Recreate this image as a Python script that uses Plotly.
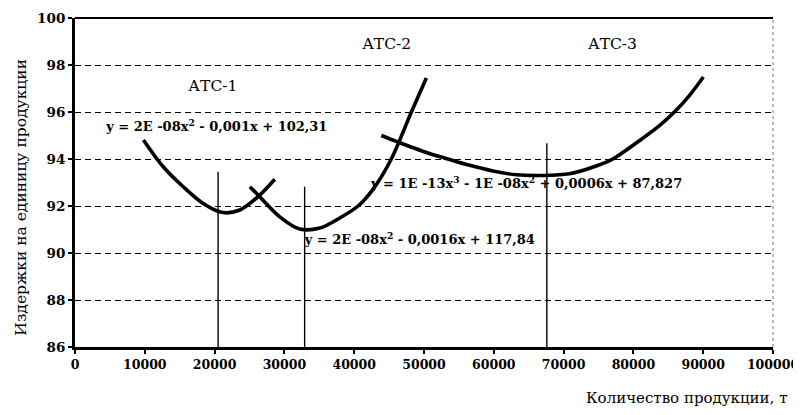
import plotly.graph_objects as go

# ---- data ----
atc1_x = [9800, 12640, 15500, 18360, 21220, 23615, 26240, 28620]
atc1_y = [94.81, 93.67, 92.82, 92.11, 91.72, 91.83, 92.40, 93.14]

atc2_x = [25050, 26230, 29340, 32200, 35070, 37930, 40550, 42690, 45320, 48190, 50340]
atc2_y = [92.82, 92.47, 91.54, 91.02, 91.06, 91.49, 92.00, 92.71, 94.00, 96.00, 97.45]

atc3_x = [43890, 46040, 50340, 53430, 56530, 59870, 63220, 67020, 70850, 74670, 77050,
          80860, 83730, 85870, 88020, 90020]
atc3_y = [95.00, 94.75, 94.28, 94.00, 93.73, 93.49, 93.33, 93.30, 93.37, 93.70, 94.00,
          94.78, 95.42, 96.00, 96.70, 97.49]

min_x = [20500, 32900, 67600]
min_top = [93.46, 92.82, 94.67]

curve_names = ["АТС-1", "АТС-2", "АТС-3"]
name_x = [19750, 44650, 77000]
name_y = [97.06, 98.85, 98.85]

eq_texts = [
    "y = 2E -08x<sup>2</sup> - 0,001x + 102,31",
    "y = 2E -08x<sup>2</sup> - 0,0016x + 117,84",
    "y = 1E -13x<sup>3</sup> - 1E -08x<sup>2</sup> + 0,0006x + 87,827",
]
eq_x = [20320, 49400, 64700]
eq_y = [95.32, 90.52, 92.9]

x_ticks = [0, 10000, 20000, 30000, 40000, 50000, 60000, 70000, 80000, 90000, 100000]
y_ticks = [86, 88, 90, 92, 94, 96, 98, 100]

x_title = "Количество продукции, т"
y_title = "Издержки на единицу продукции"

FONT = "DejaVu Serif"

fig = go.Figure()

# vertical lines at minima
vx, vy = [], []
for mx, mt in zip(min_x, min_top):
    vx += [mx, mx, None]
    vy += [86, mt, None]
fig.add_trace(go.Scatter(x=vx, y=vy, mode="lines",
                         line=dict(color="black", width=1.4),
                         hoverinfo="skip", showlegend=False))

for xs, ys in [(atc1_x, atc1_y), (atc2_x, atc2_y), (atc3_x, atc3_y)]:
    fig.add_trace(go.Scatter(x=xs, y=ys, mode="lines",
                             line=dict(color="black", width=3.6, shape="spline", smoothing=0.9),
                             showlegend=False))

# curve names and trend equations as text marks
fig.add_trace(go.Scatter(x=name_x, y=name_y, mode="text", text=curve_names,
                         textposition="middle center", hoverinfo="skip", showlegend=False,
                         textfont=dict(family=FONT, size=15.5, color="black")))
fig.add_trace(go.Scatter(x=eq_x, y=eq_y, mode="text", text=eq_texts,
                         textposition="middle center", hoverinfo="skip", showlegend=False,
                         textfont=dict(family=FONT, size=13, color="black", weight="bold")))

annotations = [
    dict(x=1, y=0, xref="paper", yref="paper", xanchor="right", yanchor="middle",
         xshift=16, yshift=-51, text=x_title, showarrow=False,
         font=dict(family=FONT, size=15, color="black")),
    dict(x=0, y=0.454, xref="paper", yref="paper", xanchor="center", yanchor="middle",
         xshift=-54, textangle=-90, text=y_title, showarrow=False,
         font=dict(family=FONT, size=15.5, color="black")),
]

# page body has an 8px margin, so the figure is drawn 8px smaller
fig.update_layout(
    width=793, height=407,
    margin=dict(l=67, r=28, t=10, b=68, autoexpand=False),
    paper_bgcolor="white", plot_bgcolor="white",
    annotations=annotations,
    shapes=[
        dict(type="line", xref="paper", yref="paper", x0=0, x1=1, y0=1, y1=1,
             line=dict(color="black", width=1.8)),
        dict(type="line", xref="paper", yref="paper", x0=1, x1=1, y0=0, y1=1,
             line=dict(color="#777777", width=1, dash="dot")),
    ],
)

fig.update_xaxes(range=[0, 100000], tickvals=x_ticks, ticktext=[str(v) for v in x_ticks],
                 automargin=False,
                 showgrid=False, zeroline=False, showline=True, linecolor="black", linewidth=3,
                 ticks="outside", ticklen=4, tickwidth=2, tickcolor="black",
                 tickfont=dict(family=FONT, size=12.5, color="black", weight="bold"))
fig.update_yaxes(range=[86, 100], tickvals=y_ticks, ticktext=[str(v) for v in y_ticks],
                 automargin=False,
                 showgrid=True, gridcolor="black", gridwidth=1, griddash="6px,4px",
                 zeroline=False, showline=True, linecolor="black", linewidth=3,
                 ticks="outside", ticklen=4, tickwidth=2, tickcolor="black",
                 tickfont=dict(family=FONT, size=13.5, color="black", weight="bold"))

fig.write_html("out.html")
